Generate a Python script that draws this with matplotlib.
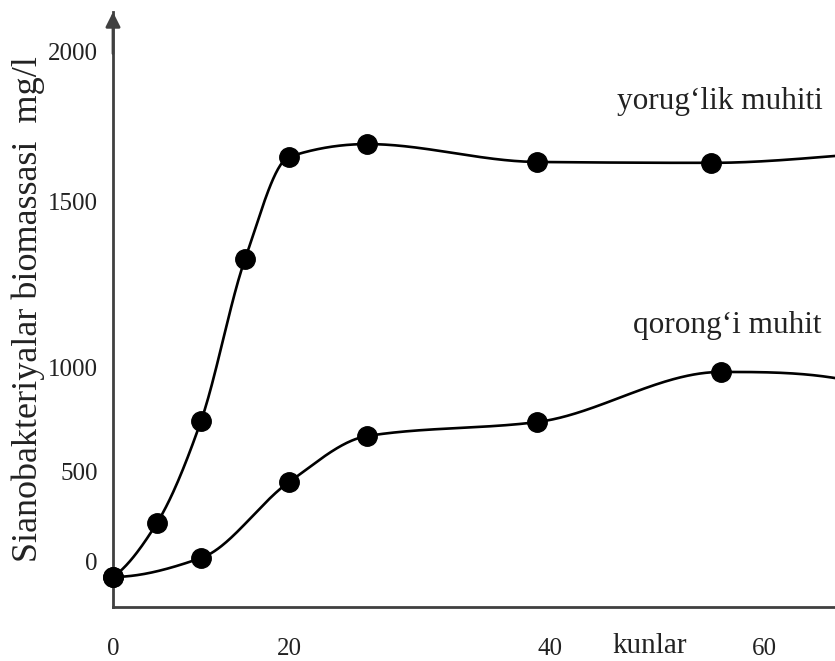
import numpy as np
import matplotlib
matplotlib.use("Agg")
import matplotlib.pyplot as plt

# ---------------- data ----------------
light_days = [0, 5, 10, 15, 20, 26, 39, 55]
light_mass = [-83, 217, 745, 1326, 1648, 1691, 1631, 1628]
light_end = (66.6, 1651)          # where the drawn curve leaves the frame

dark_days = [0, 10, 20, 26, 39, 56]
dark_mass = [-83, 22, 444, 673, 740, 981]
dark_end = (66.6, 952)

xtick_vals = [0, 20, 40, 60]
xtick_labels = ["0", "20", "40", "60"]
ytick_vals = [0, 500, 1000, 1500, 2000]
ytick_labels = ["0", "500", "1000", "1500", "2000"]

# irregular axis graduation of the original drawing (pixel distance from axes origin)
x_anchor_px = [0, 176, 437, 651]
y_anchor_px = [45, 135, 239, 406, 555]
X_FRAME_PX = 722
Y_FRAME_PX = 595

FONT = ["Liberation Serif", "DejaVu Serif"]
TXT = "#222222"
AX = "#404040"


def piecewise(vals, pos):
    vals = np.asarray(vals, float)
    pos = np.asarray(pos, float)
    s0 = (pos[1] - pos[0]) / (vals[1] - vals[0])
    s1 = (pos[-1] - pos[-2]) / (vals[-1] - vals[-2])

    def fwd(v):
        v = np.asarray(v, float)
        out = np.interp(v, vals, pos)
        out = np.where(v < vals[0], pos[0] + (v - vals[0]) * s0, out)
        out = np.where(v > vals[-1], pos[-1] + (v - vals[-1]) * s1, out)
        return out

    def inv(p):
        p = np.asarray(p, float)
        out = np.interp(p, pos, vals)
        out = np.where(p < pos[0], vals[0] + (p - pos[0]) / s0, out)
        out = np.where(p > pos[-1], vals[-1] + (p - pos[-1]) / s1, out)
        return out

    return fwd, inv


def pchip(x, y, xn):
    x = np.asarray(x, float)
    y = np.asarray(y, float)
    h = np.diff(x)
    d = np.diff(y) / h
    n = len(x)
    m = np.zeros(n)
    for k in range(1, n - 1):
        if d[k - 1] * d[k] > 0:
            w1 = 2 * h[k] + h[k - 1]
            w2 = h[k] + 2 * h[k - 1]
            m[k] = (w1 + w2) / (w1 / d[k - 1] + w2 / d[k])

    def endslope(h0, h1, d0, d1):
        s = ((2 * h0 + h1) * d0 - h0 * d1) / (h0 + h1)
        if np.sign(s) != np.sign(d0):
            s = 0.0
        elif np.sign(d0) != np.sign(d1) and abs(s) > abs(3 * d0):
            s = 3 * d0
        return s

    m[0] = endslope(h[0], h[1], d[0], d[1])
    m[-1] = endslope(h[-1], h[-2], d[-1], d[-2])
    idx = np.clip(np.searchsorted(x, xn) - 1, 0, n - 2)
    t = (xn - x[idx]) / h[idx]
    h00 = 2 * t**3 - 3 * t**2 + 1
    h10 = t**3 - 2 * t**2 + t
    h01 = -2 * t**3 + 3 * t**2
    h11 = t**3 - t**2
    return (h00 * y[idx] + h10 * h[idx] * m[idx] +
            h01 * y[idx + 1] + h11 * h[idx] * m[idx + 1])


xf, xi = piecewise(xtick_vals, x_anchor_px)
yf, yi = piecewise(ytick_vals, y_anchor_px)

fig = plt.figure(figsize=(8.35, 6.61), dpi=100)
ax = fig.add_axes([113 / 835, 54 / 661, X_FRAME_PX / 835, Y_FRAME_PX / 661])
ax.set_xscale("function", functions=(xf, xi))
ax.set_yscale("function", functions=(yf, yi))
ax.set_xlim(float(xi(0)), float(xi(X_FRAME_PX)))
ax.set_ylim(float(yi(0)), float(yi(Y_FRAME_PX)))


def smooth(days, mass, end):
    xs = np.append(days, end[0])
    ys = np.append(mass, end[1])
    px = xf(xs)
    py = yf(ys)
    pn = np.linspace(px[0], px[-1], 600)
    qn = pchip(px, py, pn)
    return xi(pn), yi(qn)


for days, mass, end in [(light_days, light_mass, light_end),
                        (dark_days, dark_mass, dark_end)]:
    cx, cy = smooth(days, mass, end)
    ax.plot(cx, cy, color="black", lw=1.9, clip_on=False, zorder=3)
    ax.plot(days, mass, "o", color="black", ms=14, clip_on=False, zorder=4)

for s in ["top", "right"]:
    ax.spines[s].set_visible(False)
for s in ["left", "bottom"]:
    ax.spines[s].set_color(AX)
    ax.spines[s].set_linewidth(2.0)

ax.annotate("", xy=(0, 1.0), xytext=(0, 0.93), xycoords="axes fraction",
            arrowprops=dict(arrowstyle="-|>", color=AX, lw=2.0,
                            mutation_scale=22, shrinkA=0, shrinkB=0))

ax.set_xticks(xtick_vals)
ax.set_xticklabels(xtick_labels)
ax.set_yticks(ytick_vals)
ax.set_yticklabels(ytick_labels)
ax.xaxis.set_minor_locator(matplotlib.ticker.NullLocator())
ax.yaxis.set_minor_locator(matplotlib.ticker.NullLocator())
ax.tick_params(axis="x", length=0, pad=22, labelsize=18, labelcolor=TXT)
ax.tick_params(axis="y", length=0, pad=11, labelsize=18, labelcolor=TXT)
for lab in ax.get_xticklabels() + ax.get_yticklabels():
    lab.set_family(FONT)

ax.set_ylabel("Sianobakteriyalar biomassasi  mg/l", family=FONT, fontsize=26,
              color=TXT, va="center")
ax.yaxis.set_label_coords((28 - 113) / X_FRAME_PX, (607 - 309) / Y_FRAME_PX)
ax.set_xlabel("kunlar", family=FONT, fontsize=21, color=TXT, va="baseline")
ax.xaxis.set_label_coords((650 - 113) / X_FRAME_PX, (607 - 653) / Y_FRAME_PX)

ax.text((720 - 113) / X_FRAME_PX, (607 - 102) / Y_FRAME_PX, "yorug\u2018lik muhiti",
        transform=ax.transAxes, ha="center", va="center", family=FONT,
        fontsize=22.5, color=TXT)
ax.text((727 - 113) / X_FRAME_PX, (607 - 325) / Y_FRAME_PX, "qorong\u2018i muhit",
        transform=ax.transAxes, ha="center", va="center", family=FONT,
        fontsize=22.5, color=TXT)

fig.savefig("out.png", dpi=100, facecolor="white")
